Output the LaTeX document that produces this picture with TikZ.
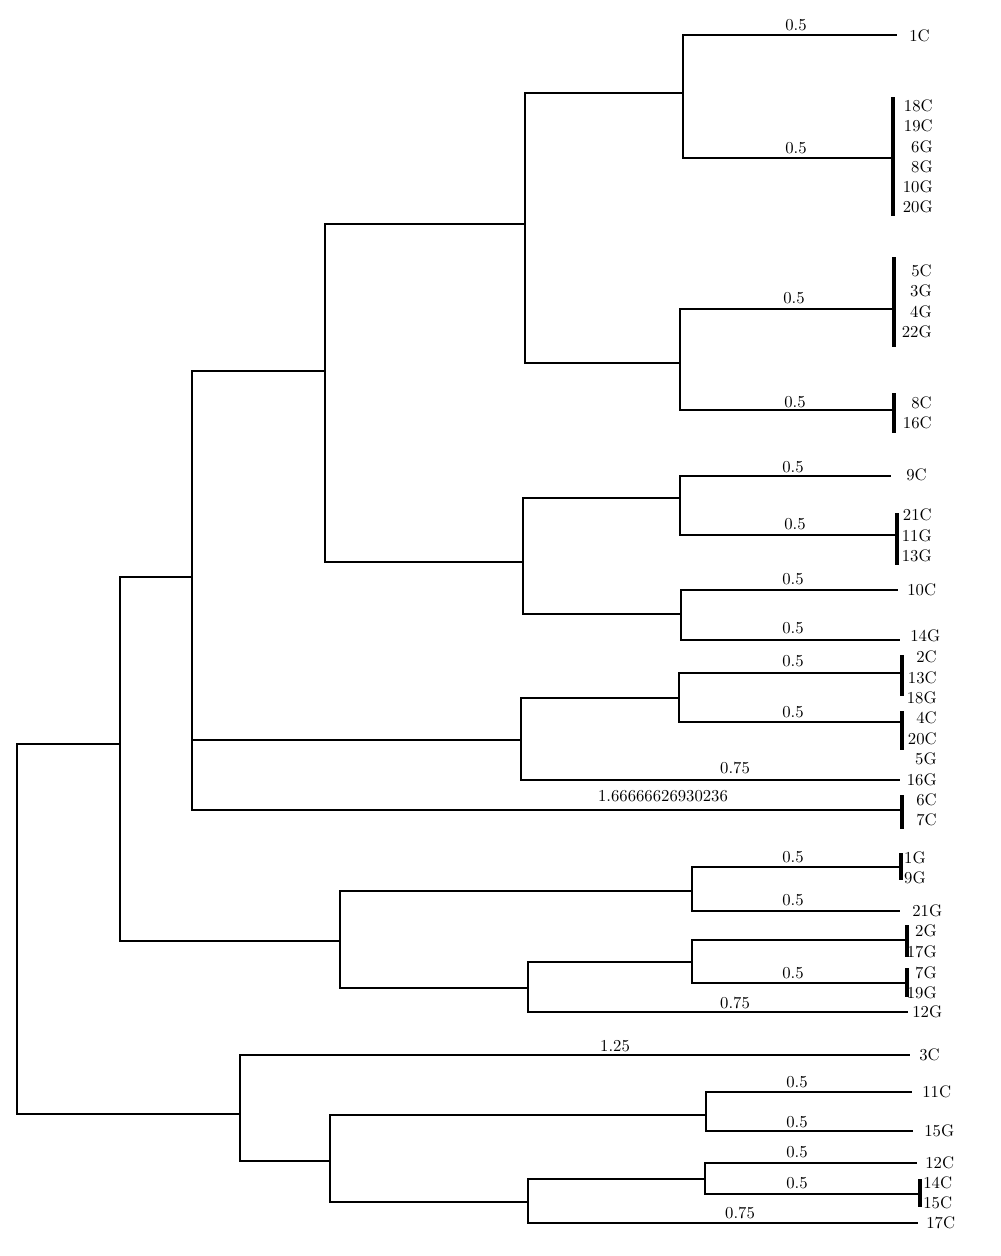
\documentclass[tikz,border=0pt]{standalone}
\usepackage{tikz}

\begin{document}
\begin{tikzpicture}[
  x=0.02cm, y=-0.02cm,
  link/.style={line width=1.5pt},
  bar/.style={fill=black, inner sep=0pt, minimum width=0.08cm, anchor=north},
  num/.style={font=\fontsize{9.5}{11}\selectfont, inner sep=0pt},
  leaf/.style={font=\fontsize{9.5}{11}\selectfont, inner sep=0pt, anchor=west},
  stack/.style={leaf, anchor=east}
]
\useasboundingbox (0,0) rectangle (1000,1256);
\coordinate (root) at (17,930);
\coordinate (a) at (120,744);
\coordinate (h) at (240,1114);
\coordinate (b) at (192,577);
\coordinate (f) at (340,941);
\coordinate (c) at (325,371);
\coordinate (d) at (521,740);
\coordinate (i) at (525,224);
\coordinate (l) at (523,562);
\coordinate (j) at (683,93);
\coordinate (k) at (680,363);
\coordinate (m) at (680,498);
\coordinate (n) at (681,614);
\coordinate (e) at (679,698);
\coordinate (g) at (692,891);
\coordinate (o) at (528,988);
\coordinate (p) at (692,962);
\coordinate (q) at (330,1161);
\coordinate (r) at (706,1115);
\coordinate (s) at (528,1202);
\coordinate (t) at (705,1179);
\foreach \n/\x/\y in {1C/897/35, 18C/893/158, 5C/894/309, 8C/894/410,
  9C/891/476, 21C/897/535, 10C/898/590, 14G/900/640, 2C/902/673,
  4C/902/722, 16G/900/780, 6C/902/810, 1G/901/867, 21G/900/911,
  2G/907/940, 7G/907/983, 12G/908/1012, 3C/910/1055, 11C/912/1092,
  15G/913/1131, 12C/917/1163, 14C/920/1194, 17C/918/1223}
  \coordinate (e\n) at (\x,\y);
\foreach \n/\x/\y/\h in {18C/893/97/2.38, 5C/894/257/1.8, 8C/894/393/0.8,
  21C/897/513/1.04, 2C/902/655/0.82, 4C/902/711/0.78, 6C/902/795/0.68,
  1G/901/853/0.54, 2G/907/925/0.64, 7G/907/968/0.58, 14C/920/1179/0.56}
  \node[bar, minimum height=\h cm] (g\n) at (\x,\y) {};
\foreach \u/\v in {root/a, root/h, a/b, a/f, b/c, b/d, b/e6C, c/i, c/l,
  i/j, i/k, j/e1C, j/e18C, k/e5C, k/e8C, l/m, l/n, m/e9C, m/e21C,
  n/e10C, n/e14G, d/e, d/e16G, e/e2C, e/e4C, f/g, f/o, g/e1G, g/e21G,
  o/p, o/e12G, p/e2G, p/e7G, h/e3C, h/q, q/r, q/s, r/e11C, r/e15G,
  s/t, s/e17C, t/e12C, t/e14C}
  \draw[link] (\u) |- (\v);
\foreach \x/\y/\t [count=\w] in {796/25/0.5, 796/148/0.5, 794/298/0.5,
  795/402/0.5, 793/467/0.5, 795/524/0.5, 793/579/0.5, 793/628/0.5,
  793/661/0.5, 793/712/0.5, 735/768/0.75, 663/796/1.66666626930236,
  793/857/0.5, 793/900/0.5, 793/973/0.5, 735/1003/0.75, 615/1046/1.25,
  797/1082/0.5, 797/1122/0.5, 797/1152/0.5, 797/1183/0.5, 740/1213/0.75}
  \node[num] (w\w) at (\x,\y) {\t};
\foreach \t [count=\i from 0] in {18C,19C,6G,8G,10G,20G}
  \node[stack] (n\t) at (933,106+20.2*\i) {\t};
\foreach \t [count=\i from 0] in {5C,3G,4G,22G}
  \node[stack] (n\t) at (932,271+20.3*\i) {\t};
\foreach \t [count=\i from 0] in {8C,16C}
  \node[stack] (n\t) at (932,403+20*\i) {\t};
\foreach \t [count=\i from 0] in {21C,11G,13G}
  \node[stack] (n\t) at (932,515+20.5*\i) {\t};
\foreach \t [count=\i from 0] in {2C,13C,18G,4C,20C,5G,16G,6C,7C}
  \node[stack] (n\t) at (937,657+20.4*\i) {\t};
\foreach \t [count=\i from 0] in {1G,9G}
  \node[stack] (n\t) at (926,858+20*\i) {\t};
\foreach \t [count=\i from 0] in {2G,17G,7G,19G}
  \node[stack] (n\t) at (937,931+20.7*\i) {\t};
\foreach \t [count=\i from 0] in {14C,15C}
  \node[leaf] (n\t) at (923,1183+20*\i) {\t};
\foreach \t/\x/\y in {1C/909/36, 9C/906/475, 10C/907/590, 14G/910/636,
  21G/912/911, 12G/912/1012, 3C/919/1055, 11C/922/1092, 15G/924/1131,
  12C/925/1163, 17C/926/1223}
  \node[leaf] (n\t) at (\x,\y) {\t};
\end{tikzpicture}
\end{document}
